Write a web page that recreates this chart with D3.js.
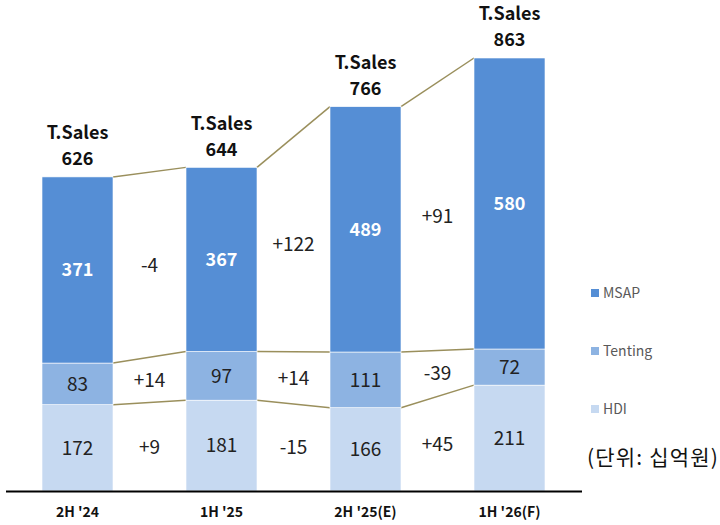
<!DOCTYPE html>
<html>
<head>
<meta charset="utf-8">
<script src="https://cdn.jsdelivr.net/npm/d3@7"></script>
<style>
  body { margin: 0; background: #fff; }
  svg { display: block; font-family: "Noto Sans CJK KR", "Noto Sans", sans-serif; }
</style>
</head>
<body>
<svg id="chart" width="720" height="525"></svg>
<script>
"use strict";

// data (십억원)
var periods = ["2H '24", "1H '25", "2H '25(E)", "1H '26(F)"];
var seriesNames = ["HDI", "Tenting", "MSAP"];
var hdi = [172, 181, 166, 211];
var tenting = [83, 97, 111, 72];
var msap = [371, 367, 489, 580];
var totals = [626, 644, 766, 863];

var colors = { HDI: "#c6d9f1", Tenting: "#8db3e2", MSAP: "#558ed5" };
var lineColor = "#9a8f5c";

var svg = d3.select("#chart");

var x = d3.scaleBand()
  .domain(periods)
  .range([5.5, 581.5])
  .paddingInner(0.507)
  .paddingOuter(0.2535);

var y = d3.scaleLinear()
  .domain([0, 863])
  .range([491, 58]);

var rows = periods.map(function(p, i) {
  return { period: p, HDI: hdi[i], Tenting: tenting[i], MSAP: msap[i], total: totals[i] };
});

var stack = d3.stack().keys(seriesNames)(rows);

// connector lines between bars at the top of each series
var g = svg.append("g");
stack.forEach(function(layer) {
  for (var i = 0; i < layer.length - 1; i++) {
    g.append("line")
      .attr("x1", x(periods[i]) + x.bandwidth())
      .attr("x2", x(periods[i + 1]))
      .attr("y1", y(layer[i][1]))
      .attr("y2", y(layer[i + 1][1]))
      .attr("stroke", lineColor)
      .attr("stroke-width", 1.5);
  }
});

// bars
var layers = g.selectAll(".layer")
  .data(stack)
  .enter().append("g")
  .attr("class", "layer")
  .attr("fill", function(d) { return colors[d.key]; });

layers.selectAll("rect")
  .data(function(d) { return d; })
  .enter().append("rect")
  .attr("x", function(d) { return x(d.data.period); })
  .attr("width", x.bandwidth())
  .attr("y", function(d) { return y(d[1]); })
  .attr("height", function(d) { return y(d[0]) - y(d[1]); })
  .attr("stroke", "#fff")
  .attr("stroke-width", 0.6);

// values inside segments
stack.forEach(function(layer) {
  var isTop = layer.key === "MSAP";
  g.selectAll(".v-" + layer.key)
    .data(layer)
    .enter().append("text")
    .attr("x", function(d) { return x(d.data.period) + x.bandwidth() / 2; })
    .attr("y", function(d) { return (y(d[0]) + y(d[1])) / 2; })
    .attr("dy", "0.36em")
    .attr("text-anchor", "middle")
    .attr("font-size", isTop ? 18 : 19)
    .attr("font-weight", isTop ? "bold" : "normal")
    .attr("fill", isTop ? "#fff" : "#222")
    .text(function(d) { return d.data[layer.key]; });

  // change labels between bars
  for (var i = 0; i < layer.length - 1; i++) {
    var a = layer[i], b = layer[i + 1];
    var diff = b.data[layer.key] - a.data[layer.key];
    var cy = ((y(a[0]) + y(a[1])) / 2 + (y(b[0]) + y(b[1])) / 2) / 2;
    var cx = (x(periods[i]) + x.bandwidth() + x(periods[i + 1])) / 2;
    g.append("text")
      .attr("x", cx)
      .attr("y", cy)
      .attr("dy", "0.36em")
      .attr("text-anchor", "middle")
      .attr("font-size", 19)
      .attr("fill", "#222")
      .text((diff > 0 ? "+" : "") + diff);
  }
});

// total labels
var tl = g.selectAll(".total")
  .data(rows)
  .enter().append("text")
  .attr("class", "total")
  .attr("text-anchor", "middle")
  .attr("font-size", 18)
  .attr("font-weight", "bold")
  .attr("fill", "#111")
  .attr("x", function(d) { return x(d.period) + x.bandwidth() / 2; })
  .attr("y", function(d) { return y(d.total); });
tl.append("tspan").attr("x", function(d) { return x(d.period) + x.bandwidth() / 2; })
  .attr("dy", -38).text("T.Sales");
tl.append("tspan").attr("x", function(d) { return x(d.period) + x.bandwidth() / 2; })
  .attr("dy", 26).text(function(d) { return d.total; });

// x axis
var xAxis = svg.append("g")
  .attr("transform", "translate(0,491)")
  .call(d3.axisBottom(x).tickSize(0).tickPadding(16));
xAxis.select(".domain").attr("stroke", "#000").attr("stroke-width", 2);
xAxis.selectAll("text")
  .attr("font-family", "\"Noto Sans CJK KR\", sans-serif")
  .attr("font-size", 14)
  .attr("font-weight", "bold")
  .attr("fill", "#111");

// legend
var legend = svg.append("g").attr("transform", "translate(591,0)");
var legendItems = ["MSAP", "Tenting", "HDI"];
var legendY = d3.scalePoint().domain(legendItems).range([293, 409]);
legendItems.forEach(function(k) {
  legend.append("rect")
    .attr("x", 0).attr("y", legendY(k) - 4)
    .attr("width", 8).attr("height", 8)
    .attr("fill", colors[k]);
  legend.append("text")
    .attr("x", 12).attr("y", legendY(k))
    .attr("dy", "0.36em")
    .attr("font-size", 14)
    .attr("fill", "#595959")
    .text(k);
});

svg.append("text")
  .attr("x", 587).attr("y", 457)
  .attr("dy", "0.36em")
  .attr("font-size", 21)
  .attr("letter-spacing", 1.2)
  .attr("fill", "#111")
  .text("(단위: 십억원)");
</script>
</body>
</html>
